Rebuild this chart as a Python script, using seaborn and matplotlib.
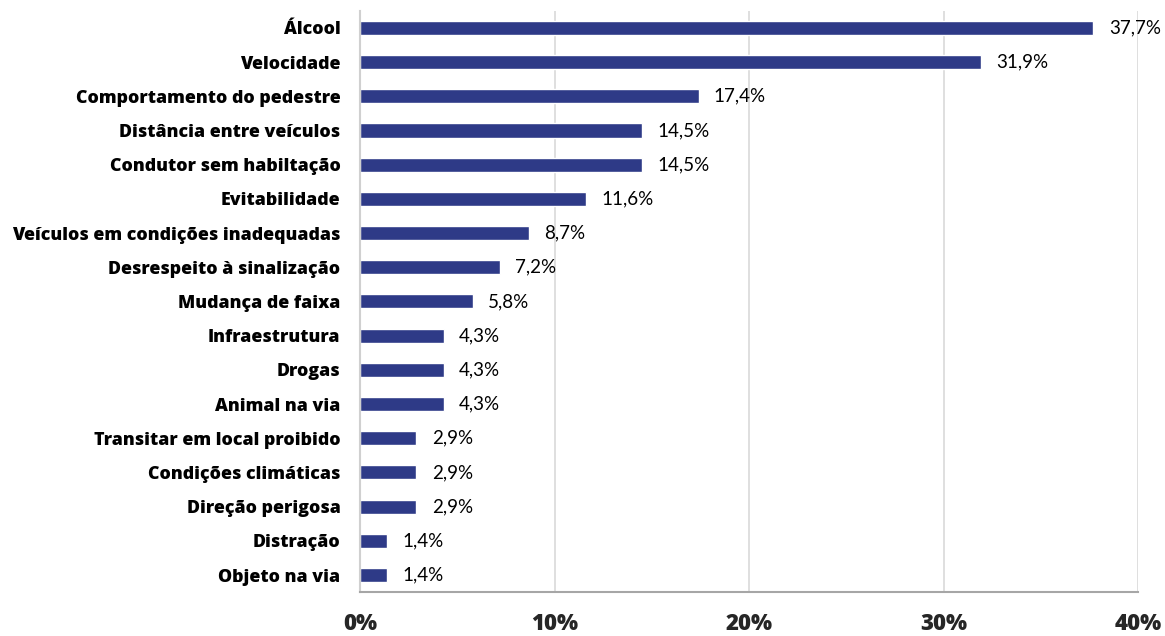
import matplotlib
matplotlib.use("Agg")
import matplotlib.pyplot as plt
import seaborn as sns
import pandas as pd

# Fatores associados aos sinistros (% dos casos)
categories = [
    "Álcool", "Velocidade", "Comportamento do pedestre", "Distância entre veículos",
    "Condutor sem habiltação", "Evitabilidade", "Veículos em condições inadequadas",
    "Desrespeito à sinalização", "Mudança de faixa", "Infraestrutura", "Drogas",
    "Animal na via", "Transitar em local proibido", "Condições climáticas",
    "Direção perigosa", "Distração", "Objeto na via",
]
values = [37.7, 31.9, 17.4, 14.5, 14.5, 11.6, 8.7, 7.2, 5.8, 4.3, 4.3, 4.3, 2.9, 2.9, 2.9, 1.4, 1.4]
xticks = [0, 10, 20, 30, 40]

df = pd.DataFrame({"fator": categories, "pct": values})

sns.set_theme(style="white")
plt.rcParams["font.family"] = ["Lato", "DejaVu Sans"]
HEAVY = ["Open Sans", "DejaVu Sans"]

fig = plt.figure(figsize=(11.65, 6.36), dpi=100)
ax = fig.add_axes([0.309, 0.069, 0.668, 0.914])

sns.barplot(data=df, x="pct", y="fator", orient="h", color="#2E3A87",
            saturation=1, width=0.41, ax=ax)

ax.set_xlim(0, 40)
ax.set_ylim(len(categories) - 0.5, -0.5)
ax.set_xticks(xticks)
ax.set_xticklabels([f"{t}%" for t in xticks], fontsize=16, fontweight=800,
                   family=HEAVY)
ax.tick_params(axis="x", length=0, pad=14)
ax.tick_params(axis="y", length=0, pad=14)
for lbl in ax.get_yticklabels():
    lbl.set_fontsize(12.8)
    lbl.set_fontweight(800)
    lbl.set_family(HEAVY)
    lbl.set_color("black")

ax.grid(axis="x", color="#D9D9D9", linewidth=1.2)
ax.set_axisbelow(True)
ax.set_xlabel("")
ax.set_ylabel("")

for side in ["top", "right"]:
    ax.spines[side].set_visible(False)
ax.spines["left"].set_color("#D0D0D0")
ax.spines["left"].set_linewidth(1.5)
ax.spines["bottom"].set_color("#A6A6A6")
ax.spines["bottom"].set_linewidth(1.5)

for i, v in enumerate(values):
    ax.annotate(f"{v:.1f}%".replace(".", ","), xy=(v, i), xytext=(11, 0),
                textcoords="offset points", va="center", ha="left",
                fontsize=13.5, color="black")

fig.savefig("out.png", dpi=100)
